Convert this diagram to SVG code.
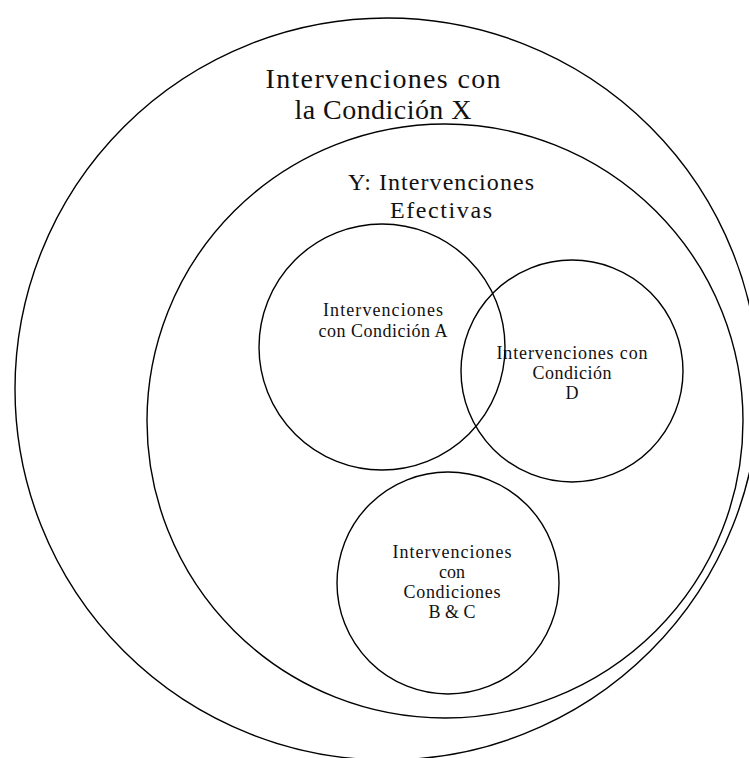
<svg xmlns="http://www.w3.org/2000/svg" width="749" height="758" viewBox="0 0 749 758">
  <style>
    .ring { fill: none; stroke: #000; stroke-width: 1.4; }
    text { font-family: "Liberation Serif", "DejaVu Serif", serif; fill: #111; text-anchor: middle; }
    .big { font-size: 28px; }
    .mid { font-size: 24px; }
    .small { font-size: 18px; }
  </style>
  <rect width="749" height="758" fill="#fff"/>

  <!-- outer set: interventions with condition X -->
  <g id="node-x">
    <ellipse class="ring" cx="387" cy="389" rx="372" ry="371"/>
    <text class="big" x="383" y="88" textLength="235" lengthAdjust="spacing">Intervenciones con</text>
    <text class="big" x="383" y="119" textLength="177" lengthAdjust="spacing">la Condición X</text>
  </g>

  <!-- subset Y: effective interventions -->
  <g id="node-y">
    <ellipse class="ring" cx="445" cy="421" rx="298" ry="297"/>
    <text class="mid" x="441" y="190" textLength="186" lengthAdjust="spacing">Y: Intervenciones</text>
    <text class="mid" x="441" y="218" textLength="102" lengthAdjust="spacing">Efectivas</text>
  </g>

  <!-- condition A -->
  <g id="node-a">
    <circle class="ring" cx="382" cy="347" r="123"/>
    <text class="small" x="383" y="316" textLength="120" lengthAdjust="spacing">Intervenciones</text>
    <text class="small" x="383" y="337" textLength="129" lengthAdjust="spacing">con Condición A</text>
  </g>

  <!-- condition D -->
  <g id="node-d">
    <circle class="ring" cx="572" cy="371" r="111"/>
    <text class="small" x="572" y="359" textLength="151" lengthAdjust="spacing">Intervenciones con</text>
    <text class="small" x="572" y="379" textLength="79" lengthAdjust="spacing">Condición</text>
    <text class="small" x="572" y="399">D</text>
  </g>

  <!-- conditions B and C -->
  <g id="node-bc">
    <circle class="ring" cx="448" cy="583" r="111"/>
    <text class="small" x="452" y="558" textLength="119" lengthAdjust="spacing">Intervenciones</text>
    <text class="small" x="452" y="578">con</text>
    <text class="small" x="452" y="598" textLength="97" lengthAdjust="spacing">Condiciones</text>
    <text class="small" x="452" y="618">B &amp; C</text>
  </g>

  <!-- no connectors in this set diagram -->
  <g id="connectors"/>
</svg>
